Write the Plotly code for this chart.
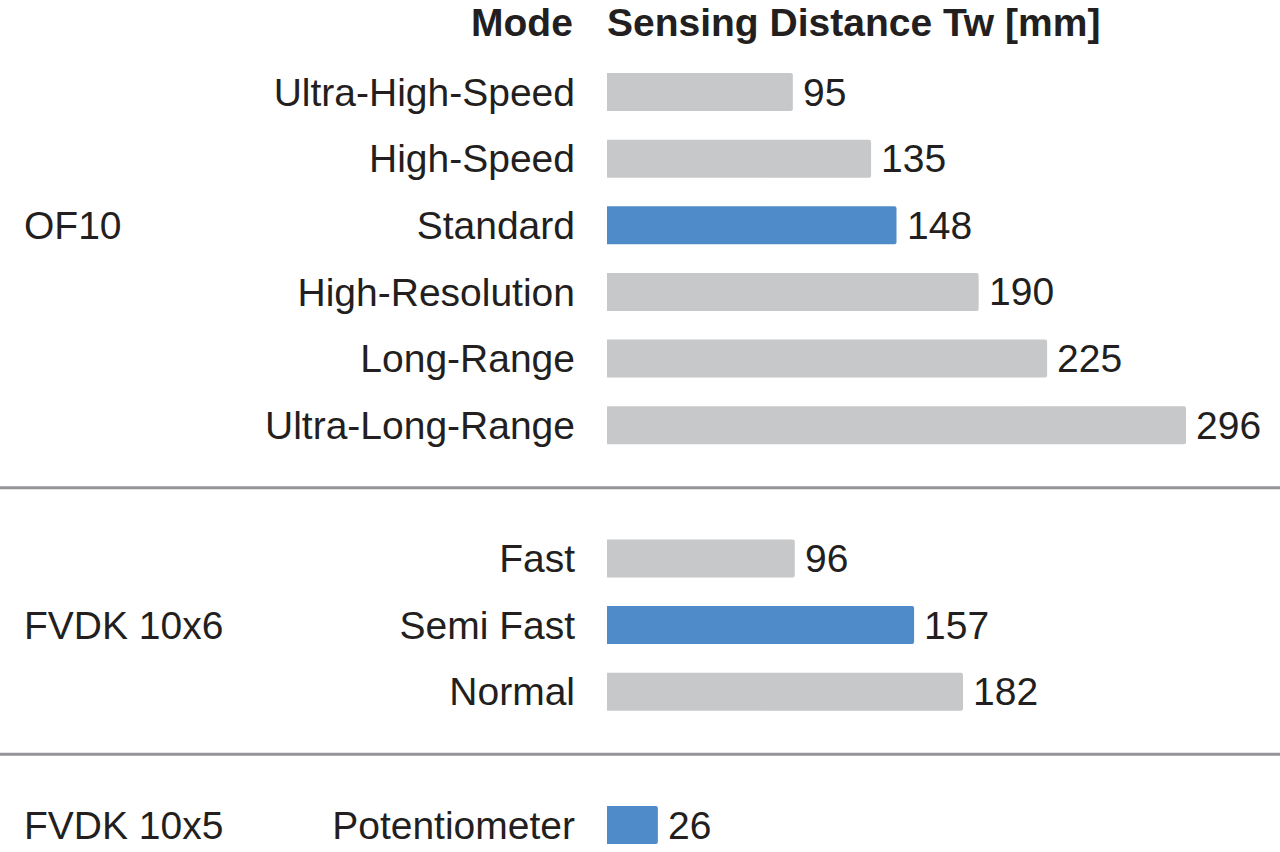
import plotly.graph_objects as go

# rows of the chart, top to bottom
groups = ["OF10", "FVDK 10x6", "FVDK 10x5"]
modes = [
    ["Ultra-High-Speed", "High-Speed", "Standard", "High-Resolution", "Long-Range", "Ultra-Long-Range"],
    ["Fast", "Semi Fast", "Normal"],
    ["Potentiometer"],
]
distances = [
    [95, 135, 148, 190, 225, 296],
    [96, 157, 182],
    [26],
]
default_mode = ["Standard", "Semi Fast", "Potentiometer"]

GREY = "#C7C8CA"
BLUE = "#508BC9"
INK = "#231F20"
FONT = "Liberation Sans, Arial, sans-serif"
SIZE = 39

# lay the groups out on a numeric y axis, leaving one empty row between groups
ys, labels, vals, colors = [], [], [], []
group_y, seps = [], []
row = 0
for gi, (g, ms, ds) in enumerate(zip(groups, modes, distances)):
    for m, d in zip(ms, ds):
        ys.append(row)
        labels.append(m)
        vals.append(d)
        is_default = m == default_mode[gi]
        colors.append(BLUE if is_default else GREY)
        if is_default:
            group_y.append(row)  # group name sits level with its default mode
        row += 1
    if gi < len(groups) - 1:
        seps.append(row - 0.06)
        row += 1

fig = go.Figure(
    go.Bar(
        x=vals,
        y=ys,
        orientation="h",
        width=0.57,
        marker=dict(color=colors, line_width=0, cornerradius=2),
        hoverinfo="x",
    )
)

px_per_unit = (1186 - 607) / 296
fig.update_xaxes(
    domain=[607 / 1280, 1],
    range=[0, (1280 - 607) / px_per_unit],
    visible=False,
)
row_px = (825 - 92) / 11
fig.update_yaxes(
    range=[11 + (852 - 825) / row_px, -92 / row_px],
    tickvals=ys,
    ticktext=labels,
    ticks="",
    showgrid=False,
    zeroline=False,
    showline=False,
    ticklabelstandoff=31,
    tickfont=dict(size=SIZE, color=INK, family=FONT),
)

shapes = [
    dict(type="line", xref="paper", yref="y", x0=0, x1=1, y0=s, y1=s,
         line=dict(color="#939598", width=3))
    for s in seps
]

# value labels just right of each bar
annotations = [
    dict(text=str(v), xref="x", yref="y", x=v, y=y, xanchor="left", xshift=8,
         yanchor="middle", showarrow=False, font=dict(size=SIZE, color=INK, family=FONT))
    for v, y in zip(vals, ys)
]
annotations += [
    dict(text=g, xref="paper", yref="y", x=22 / 1280, y=gy, xanchor="left",
         yanchor="middle", showarrow=False, font=dict(size=SIZE, color=INK, family=FONT))
    for g, gy in zip(groups, group_y)
]
header_y = (22 - 92) / row_px
annotations += [
    dict(text="<b>Mode</b>", xref="paper", yref="y", x=575 / 1280, y=header_y,
         xanchor="right", yanchor="middle", showarrow=False,
         font=dict(size=SIZE, color=INK, family=FONT)),
    dict(text="<b>Sensing Distance Tw [mm]</b>", xref="paper", yref="y", x=605 / 1280,
         y=header_y, xanchor="left", yanchor="middle", showarrow=False,
         font=dict(size=SIZE, color=INK, family=FONT)),
]

fig.update_layout(
    width=1280,
    height=852,
    margin=dict(l=0, r=0, t=0, b=0),
    paper_bgcolor="white",
    plot_bgcolor="white",
    showlegend=False,
    shapes=shapes,
    annotations=annotations,
)

# drop the browser's default body margin so the chart sits at the page origin
fig.write_html(
    "out.html",
    config={"displayModeBar": False},
    post_script="document.body.style.margin='0px';",
)
